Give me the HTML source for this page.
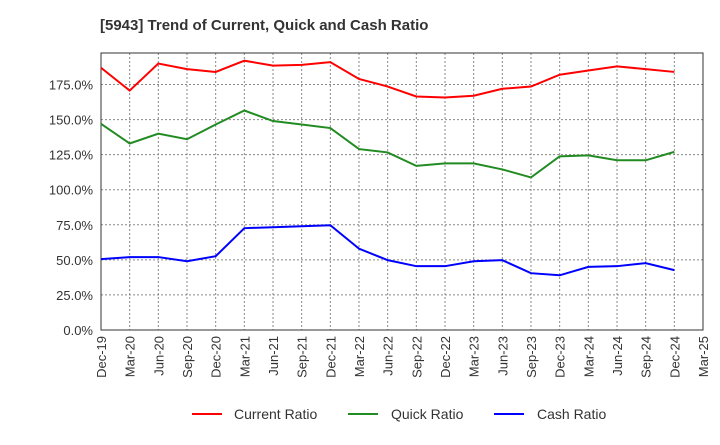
<!DOCTYPE html>
<html><head><meta charset="utf-8"><style>
body{margin:0;background:#fff;font-family:"Liberation Sans",sans-serif}
text{font-family:"Liberation Sans",sans-serif}
</style></head><body>
<svg id="c" width="720" height="440" xmlns="http://www.w3.org/2000/svg">
<text x="100" y="30" font-size="15" font-weight="bold" fill="#333">[5943]  Trend of Current, Quick and Cash Ratio</text>
<g id="grid"></g><g id="axes"></g><g id="series"></g>
<g>
<line x1="192" y1="414" x2="222" y2="414" stroke="#f00" stroke-width="2"/>
<text x="234" y="419" font-size="14" fill="#333">Current Ratio</text>
<line x1="348" y1="414" x2="378" y2="414" stroke="#228b22" stroke-width="2"/>
<text x="391" y="419" font-size="14" fill="#333">Quick Ratio</text>
<line x1="494" y1="414" x2="524" y2="414" stroke="#00f" stroke-width="2"/>
<text x="537" y="419" font-size="14" fill="#333">Cash Ratio</text>
</g>
</svg>
<script>
const quarters=["Dec-19","Mar-20","Jun-20","Sep-20","Dec-20","Mar-21","Jun-21","Sep-21","Dec-21","Mar-22","Jun-22","Sep-22","Dec-22","Mar-23","Jun-23","Sep-23","Dec-23","Mar-24","Jun-24","Sep-24","Dec-24","Mar-25"];
const currentRatio=[187,170.7,190,186,184,192,188.5,189,191,179,173.6,166.5,165.8,167,172,173.6,182,185,188,186,184];
const quickRatio=[147,133,140,136,146.5,156.5,149,146.5,144,129,126.6,117,118.8,118.8,114.5,108.8,123.8,124.5,121,121,127];
const cashRatio=[50.5,52,52,49,52.6,72.6,73.3,74,74.7,58,49.8,45.5,45.5,49,49.8,40.5,39,45,45.5,47.7,42.7];
const yTicks=[0,25,50,75,100,125,150,175];
const L=101,R=703,T=53,B=330,ymax=197.5;
const x=i=>L+(R-L)*i/(quarters.length-1);
const y=v=>B-(B-T)*v/ymax;
const NS="http://www.w3.org/2000/svg";
function mk(tag,attrs,parent){const e=document.createElementNS(NS,tag);for(const k in attrs)e.setAttribute(k,attrs[k]);document.getElementById(parent).appendChild(e);return e;}
yTicks.forEach(v=>{
 const g=mk("line",{x1:L,x2:R,y1:y(v),y2:y(v),stroke:"#888","stroke-dasharray":"2,2","stroke-width":1},"grid");
 
 
 const t=mk("text",{x:L-8,y:y(v)+5,"font-size":13,fill:"#333","text-anchor":"end"},"axes");
 t.textContent=v.toFixed(1)+"%";
 
 
});
quarters.forEach((q,i)=>{
 const g=mk("line",{x1:x(i),x2:x(i),y1:T,y2:B,stroke:"#888","stroke-dasharray":"2,2","stroke-width":1},"grid");
 
 
 const t=mk("text",{x:0,y:0,"font-size":13,fill:"#333","text-anchor":"end",transform:`translate(${x(i)+5},${B+6}) rotate(-90)`},"axes");
 t.textContent=q;
 
 
});
const fr=mk("rect",{x:L,y:T,width:R-L,height:B-T,fill:"none",stroke:"#333","stroke-width":1},"axes");


[[currentRatio,"#f00","current-ratio-line"],[quickRatio,"#228b22","quick-ratio-line"],[cashRatio,"#00f","cash-ratio-line"]].forEach(([d,c,n])=>{
 const p=mk("polyline",{points:d.map((v,i)=>x(i)+","+y(v)).join(" "),fill:"none",stroke:c,"stroke-width":2},"series");
 
 
});
</script>
</body></html>
